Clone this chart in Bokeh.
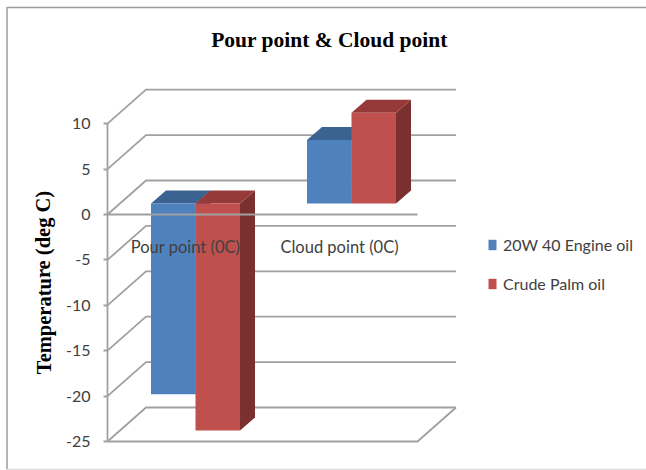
from bokeh.core.properties import value
from bokeh.embed import file_html
from bokeh.models import FixedTicker, Legend, LegendItem, LinearAxis, Range1d
from bokeh.plotting import figure
from bokeh.resources import INLINE

# Chart content
title_text = "Pour point & Cloud point"
y_title = "Temperature (deg C)"
categories = ["Pour point (0C)", "Cloud point (0C)"]
engine_oil = [-21, 7]
palm_oil = [-25, 10]
series_names = ["20W 40 Engine oil", "Crude Palm oil"]
y_ticks = [-25, -20, -15, -10, -5, 0, 5, 10]

# Layout: x is measured in canvas pixels, y in degrees C
W, H = 646, 470
PX_PER_UNIT = 9.08
ZERO_PX = 214
to_y = lambda px: (ZERO_PX - px) / PX_PER_UNIT

AXIS_X, FLOOR_RIGHT = 107, 417
WALL_DX, WALL_DY = 38.5, 34 / PX_PER_UNIT
BAR_DX, BAR_DY = 15, 13 / PX_PER_UNIT
BAR_BASE = 11 / PX_PER_UNIT
BAR_W = 44.5
GROUP_X = [150.5, 306.5]
LABEL_X = [185, 339]
LABEL_Y = to_y(246.5)

GRID = "#a0a0a0"
GRID_W = 1.8
TEXT = "#404040"
BLUE = ("#4f81bd", "#3a6391", "#2f4f75")
RED = ("#c0504d", "#953a38", "#7a302e")
LABEL_FONT = "Lato"

p = figure(width=W, height=H, x_range=Range1d(0, W), y_range=Range1d(to_y(H), to_y(0)),
           output_backend="svg", toolbar_location=None, min_border=0,
           outline_line_color=None, background_fill_color="white")
p.grid.visible = False
p.xaxis.visible = False
p.yaxis.visible = False

# Outer chart border, open on the right
p.line([W, 6.5, 6.5], [to_y(7), to_y(7), to_y(469)], line_color="#9c9c9c", line_width=1.5)
p.line([6.5, W], [to_y(469), to_y(469)], line_color="#dcdcdc", line_width=1.5)

# Side-wall diagonals and back-wall gridlines
for t in y_ticks:
    p.line([AXIS_X, AXIS_X + WALL_DX, FLOOR_RIGHT + WALL_DX], [t, t + WALL_DY, t + WALL_DY],
           line_color=GRID, line_width=GRID_W)

# Front edge and right diagonal of the floor
floor = y_ticks[0]
p.line([AXIS_X, FLOOR_RIGHT, FLOOR_RIGHT + WALL_DX], [floor, floor, floor + WALL_DY],
       line_color=GRID, line_width=GRID_W)


def draw_bar(x0, v, colors):
    """Draw one extruded bar: side and top faces first, then the front."""
    x1 = x0 + BAR_W
    hi = max(v, 0) + BAR_BASE
    lo = min(v, 0) + BAR_BASE
    p.patch([x1, x1 + BAR_DX, x1 + BAR_DX, x1], [lo, lo + BAR_DY, hi + BAR_DY, hi],
            fill_color=colors[2], line_color=None)
    p.patch([x0, x0 + BAR_DX, x1 + BAR_DX, x1], [hi, hi + BAR_DY, hi + BAR_DY, hi],
            fill_color=colors[1], line_color=None)
    return p.patch([x0, x1, x1, x0], [lo, lo, hi, hi], fill_color=colors[0], line_color=None)


swatches = []
for i, gx in enumerate(GROUP_X):
    a = draw_bar(gx, engine_oil[i], BLUE)
    b = draw_bar(gx + BAR_W, palm_oil[i], RED)
    swatches = [a, b]

# Category axis line runs across the bars at zero
p.line([AXIS_X, FLOOR_RIGHT], [0, 0], line_color=GRID, line_width=GRID_W)

# Value axis on the front-left edge
axis = LinearAxis(fixed_location=AXIS_X, ticker=FixedTicker(ticks=y_ticks), bounds=(-25, 10))
axis.axis_line_color = GRID
axis.axis_line_width = GRID_W
axis.major_tick_line_color = GRID
axis.major_tick_line_width = GRID_W
axis.major_tick_in = 0
axis.major_tick_out = 4
axis.minor_tick_line_color = None
axis.major_label_overrides = {t: str(t) for t in y_ticks}
axis.major_label_text_font = LABEL_FONT
axis.major_label_text_font_size = "16px"
axis.major_label_text_color = TEXT
axis.major_label_standoff = 13
p.add_layout(axis, "left")

# Category names sit just under the zero line, over the bars
p.text(LABEL_X, [LABEL_Y] * 2, text=categories, text_align="center", text_baseline="middle",
       text_font=value(LABEL_FONT), text_font_size="16.5px", text_color=TEXT)

# Chart title and rotated value-axis title
p.text([329], [to_y(39)], text=[title_text], text_align="center", text_baseline="middle",
       text_font=value("Liberation Serif"), text_font_style="bold", text_font_size="21.5px",
       text_color="black")
p.text([43], [to_y(282)], text=[y_title], angle=1.5708, text_align="center",
       text_baseline="middle", text_font=value("Liberation Serif"), text_font_style="bold",
       text_font_size="20.5px", text_color="black")

legend = Legend(items=[LegendItem(label=series_names[0], renderers=[swatches[0]]),
                       LegendItem(label=series_names[1], renderers=[swatches[1]])],
                location=(487, H - 293), orientation="vertical", padding=0, margin=0, spacing=20,
                glyph_width=10, glyph_height=13, label_height=13, label_standoff=6,
                background_fill_alpha=0, border_line_color=None,
                label_text_font=LABEL_FONT, label_text_font_size="16px", label_text_color=TEXT)
p.add_layout(legend)

open("out.html", "w").write(file_html(p, INLINE))
